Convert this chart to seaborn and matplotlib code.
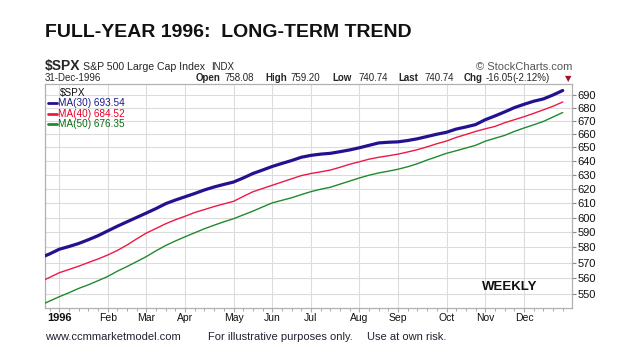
import pandas as pd
import seaborn as sns
import matplotlib.pyplot as plt
import matplotlib.ticker as mticker
import matplotlib.dates as mdates
from matplotlib.lines import Line2D

# weekly points, Monday of each week
weeks = pd.date_range('1995-12-18', '1996-12-30', freq='7D')

ma30 = [573.0, 575.6, 578.7, 580.5, 582.5, 585.0, 587.7, 590.9, 594.1, 597.1,
        600.1, 603.1, 606.2, 609.6, 612.1, 614.4, 616.7, 619.2, 621.3, 623.1,
        624.8, 627.7, 630.9, 633.4, 636.0, 638.2, 640.3, 642.7, 644.1, 645.0,
        645.6, 646.8, 648.1, 649.7, 651.5, 653.3, 653.8, 654.1, 655.1, 656.4,
        658.1, 659.8, 661.3, 663.7, 665.3, 667.1, 670.8, 673.7, 676.8, 680.1,
        682.7, 685.1, 686.9, 690.0, 693.54]
ma40 = [557.5, 560.4, 563.4, 565.5, 567.6, 570.0, 572.3, 574.9, 577.9, 581.5,
        585.6, 589.5, 592.6, 595.8, 598.5, 600.9, 603.5, 605.5, 607.6, 609.4,
        611.2, 614.6, 617.9, 620.2, 622.5, 624.8, 627.1, 629.4, 630.9, 632.1,
        633.4, 635.4, 637.6, 639.4, 641.3, 642.7, 643.8, 645.0, 646.6, 648.3,
        650.4, 652.7, 654.7, 657.4, 659.6, 661.9, 663.9, 665.7, 668.5, 670.8,
        673.1, 675.7, 678.4, 681.2, 684.52]
ma50 = [542.8, 545.5, 548.2, 550.7, 553.4, 555.7, 558.3, 561.0, 564.4, 567.4,
        570.6, 573.9, 577.7, 581.2, 584.2, 587.0, 589.7, 592.4, 594.8, 597.1,
        599.2, 601.8, 604.4, 607.3, 610.1, 611.9, 613.7, 615.9, 618.0, 619.7,
        621.1, 623.3, 625.5, 627.7, 629.7, 631.3, 632.6, 634.0, 635.8, 638.0,
        640.7, 643.1, 645.6, 647.5, 649.5, 651.5, 654.6, 656.8, 658.9, 661.9,
        664.5, 666.9, 669.5, 672.9, 676.35]

y_ticks = list(range(550, 700, 10))
month_labels = ['1996', 'Feb', 'Mar', 'Apr', 'May', 'Jun', 'Jul', 'Aug',
                'Sep', 'Oct', 'Nov', 'Dec']

series = [('MA(30) 693.54', ma30, '#24118f', 2.3, '#1c1a8a'),
          ('MA(40) 684.52', ma40, '#ee1846', 1.0, '#e8002a'),
          ('MA(50) 676.35', ma50, '#1f8a2e', 1.0, '#0b6b12')]

sns.set_style('white')
plt.rcParams['font.family'] = ['Liberation Sans', 'DejaVu Sans']

W, H = 641, 360
fig = plt.figure(figsize=(W / 100, H / 100), dpi=100)
ax = fig.add_axes([45 / W, 1 - 308 / H, (571.7 - 45) / W, (308 - 84) / H])


def px(x, y):
    return x / W, 1 - y / H


df = pd.DataFrame({'week': weeks, 'ma30': ma30, 'ma40': ma40, 'ma50': ma50})
for (label, vals, color, lw, _), col in zip(series, ['ma30', 'ma40', 'ma50']):
    sns.lineplot(data=df, x='week', y=col, color=color, linewidth=lw, ax=ax,
                 zorder=3)

ax.set_yscale('log')
ax.set_ylim(541.2, 698.7)
ax.yaxis.set_major_locator(mticker.FixedLocator(y_ticks))
ax.yaxis.set_minor_locator(mticker.NullLocator())
ax.yaxis.set_major_formatter(mticker.FormatStrFormatter('%d'))
ax.yaxis.tick_right()
ax.tick_params(axis='y', which='major', right=True, left=False, length=3,
               width=0.8, color='#888888', pad=1, labelsize=8,
               labelcolor='#111111')

month_starts = weeks[(weeks.year == 1996) & (weeks.day <= 7)]
ax.set_xlim(pd.Timestamp('1996-01-01') - pd.Timedelta(days=10.3),
            pd.Timestamp('1996-12-30') + pd.Timedelta(days=6.5))
ax.xaxis.set_major_locator(mticker.FixedLocator(mdates.date2num(month_starts)))
ax.xaxis.set_minor_locator(mticker.FixedLocator(mdates.date2num(weeks)))
ax.set_xticklabels(month_labels)
ax.tick_params(axis='x', which='major', bottom=True, length=3, width=0.8,
               color='#aaaaaa', pad=0.5, labelsize=7.5, labelcolor='#111111')
ax.tick_params(axis='x', which='minor', bottom=True, length=2, width=0.6,
               color='#999999')
ax.get_xticklabels()[0].set_fontweight('bold')
ax.get_xticklabels()[0].set_fontsize(8)

ax.grid(True, which='major', color='#dcdcdc', linewidth=0.8)
ax.set_axisbelow(True)
for sp in ax.spines.values():
    sp.set_color('#b0b0b0')
    sp.set_linewidth(0.9)
ax.set_xlabel('')
ax.set_ylabel('')

# legend block in the top-left corner
fig.text(*px(60, 95.7), '$SPX', fontsize=7.2, color='#111111', va='baseline')
for i, (label, _, color, lw, tcolor) in enumerate(series):
    yc = 103 + i * 10.7
    fig.add_artist(Line2D([48.3 / W, 57.3 / W], [1 - yc / H, 1 - yc / H],
                          color=color, linewidth=2))
    fig.text(*px(58.3, yc), label, fontsize=7.2, color=tcolor, va='center')

fig.text(*px(481.7, 286.7), 'WEEKLY', fontsize=9.5, fontweight='bold',
         color='#111111', va='center')

# header
fig.text(*px(45, 37.3), 'FULL-YEAR 1996:  LONG-TERM TREND', fontsize=14,
         fontweight='bold', color='#111111', va='baseline')
fig.text(*px(45, 70), '$SPX', fontsize=10, fontweight='bold', va='baseline')
fig.text(*px(83, 70), 'S&P 500 Large Cap Index', fontsize=7.6, va='baseline')
fig.text(*px(211, 70), 'INDX', fontsize=7, va='baseline')
fig.text(*px(572, 70), '\u00a9 StockCharts.com', fontsize=8, color='#555555',
         ha='right', va='baseline')
fig.text(*px(45, 81), '31-Dec-1996', fontsize=7, va='baseline')

quote = [(195.5, 'Open', True), (224, '758.08', False),
         (265.8, 'High', True), (290.3, '759.20', False),
         (332, 'Low', True), (358.6, '740.74', False),
         (397.9, 'Last', True), (424.5, '740.74', False),
         (464, 'Chg', True), (485.4, '-16.05', False),
         (512.4, '(-2.12%)', False)]
for x, s, bold in quote:
    fig.text(*px(x, 81), s, fontsize=7,
             fontweight='bold' if bold else 'normal', va='baseline')
fig.text(*px(564.5, 81), '\u25bc', fontsize=6, color='#a0102a',
         family='DejaVu Sans', va='baseline')

# footer
fig.text(*px(45, 337), 'www.ccmmarketmodel.com', fontsize=8,
         color='#222233', va='center')
fig.text(*px(207.7, 337), 'For illustrative purposes only.', fontsize=8,
         color='#222233', va='center')
fig.text(*px(367.2, 337), 'Use at own risk.', fontsize=8,
         color='#222233', va='center')

fig.savefig('out.png', dpi=100)
